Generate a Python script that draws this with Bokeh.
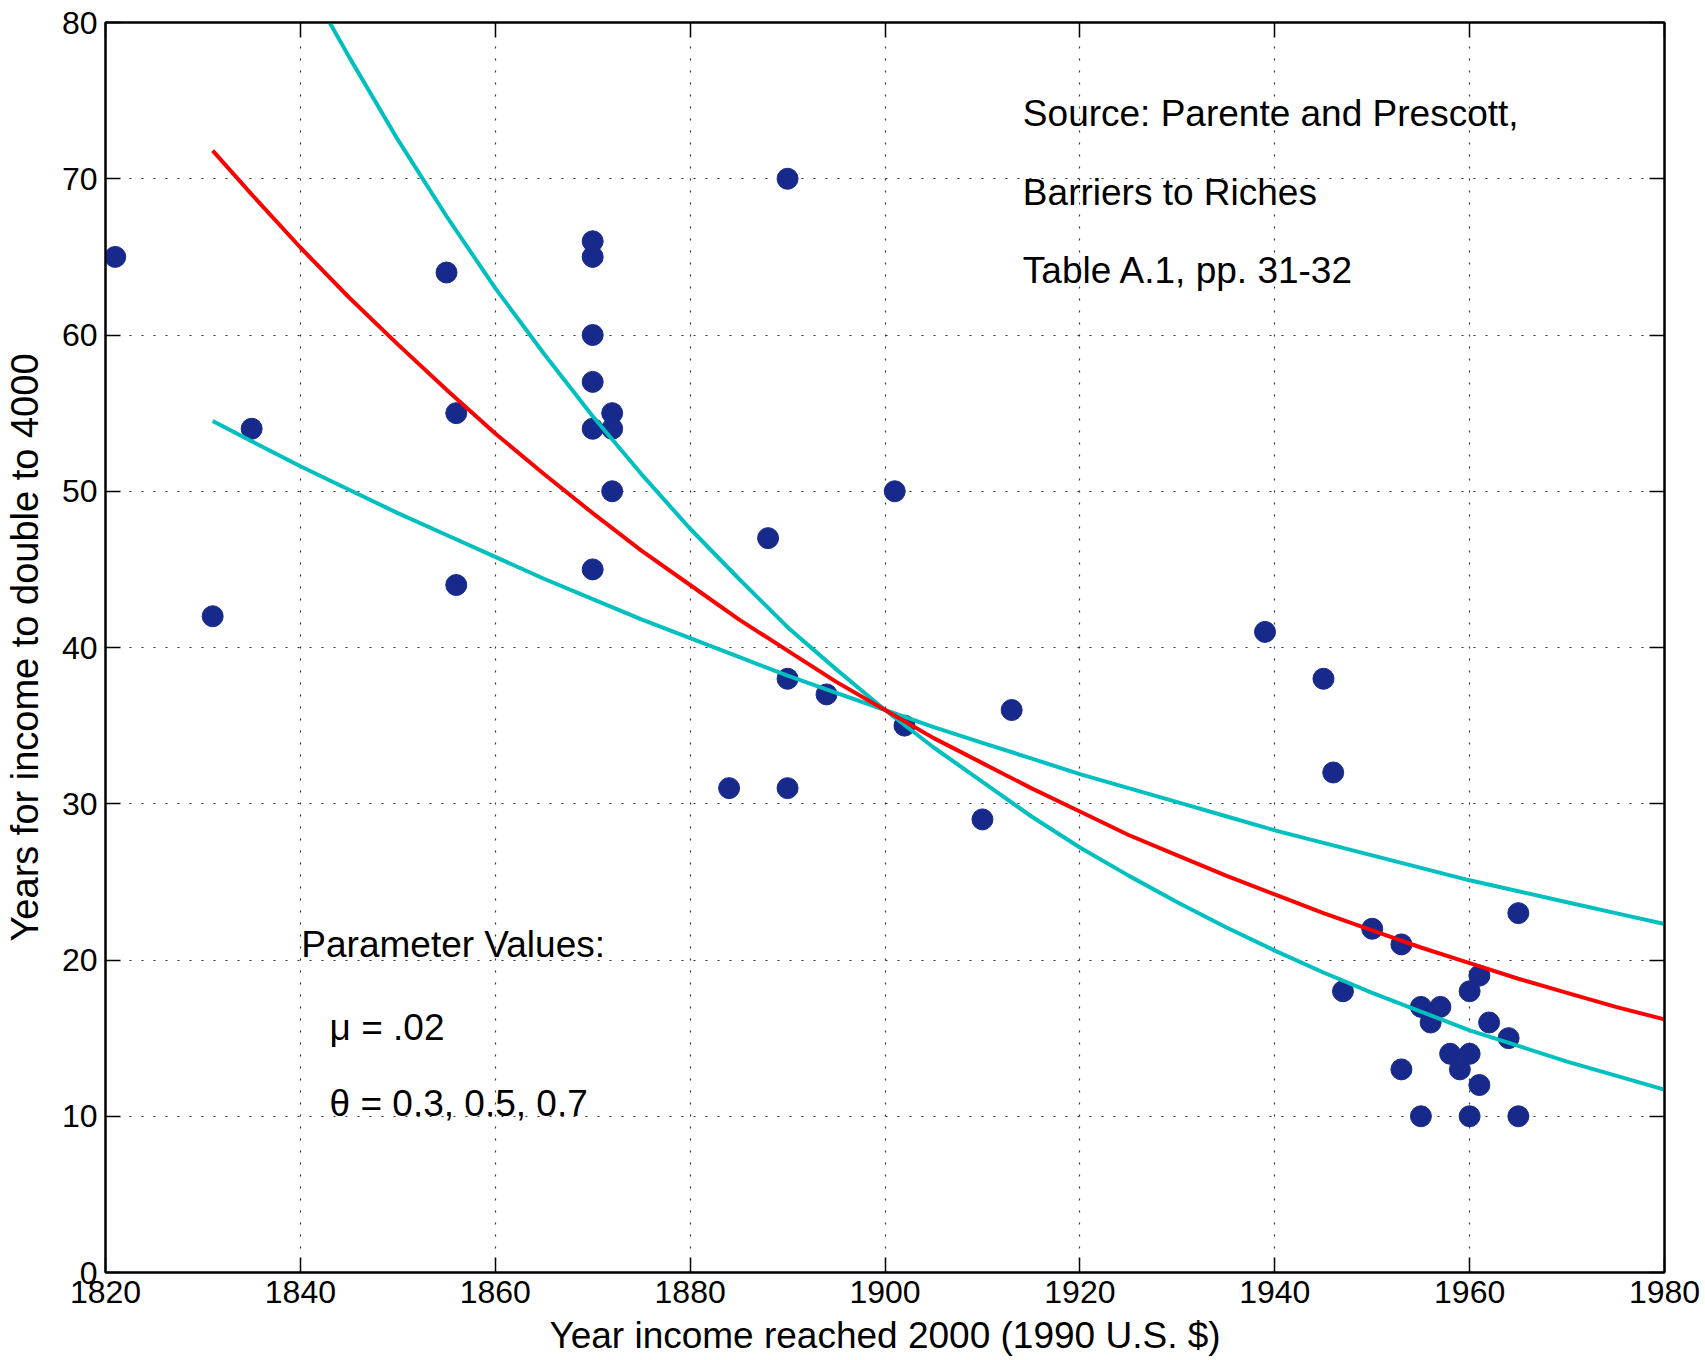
from bokeh.plotting import figure
from bokeh.models import LinearAxis, FixedTicker, Range1d, Label
from bokeh.embed import file_html
from bokeh.resources import INLINE

# Observed countries: year income first reached $2000 vs. years to reach $4000
obs_year = [1821, 1831, 1835, 1855, 1856, 1856, 1870, 1870, 1870, 1870, 1870,
            1872, 1872, 1872, 1870, 1884, 1888, 1890, 1890, 1890, 1894, 1901,
            1902, 1910, 1913, 1939, 1945, 1946, 1947, 1950, 1953, 1953, 1955,
            1955, 1956, 1957, 1958, 1959, 1960, 1960, 1960, 1961, 1961, 1962,
            1964, 1965, 1965]
obs_years_to_double = [65, 42, 54, 64, 55, 44, 66, 65, 60, 57, 54,
                       55, 54, 50, 45, 31, 47, 70, 38, 31, 37, 50,
                       35, 29, 36, 41, 38, 32, 18, 22, 21, 13, 17,
                       10, 16, 17, 14, 13, 14, 18, 10, 19, 12, 16,
                       15, 23, 10]

# Model predictions (mu = .02), one curve per theta
theta03_year = [1831, 1835, 1840, 1845, 1850, 1855, 1860, 1865, 1870, 1875,
                1880, 1885, 1890, 1895, 1900, 1905, 1910, 1915, 1920, 1925,
                1930, 1935, 1940, 1945, 1950, 1955, 1960, 1965, 1970, 1975, 1980]
theta03_val = [54.5, 53.2, 51.6, 50.1, 48.6, 47.2, 45.8, 44.4, 43.1, 41.8,
               40.6, 39.4, 38.2, 37.1, 36.0, 34.9, 33.9, 32.9, 31.9, 31.0,
               30.1, 29.2, 28.3, 27.5, 26.7, 25.9, 25.1, 24.4, 23.7, 23.0, 22.3]

theta05_year = [1831, 1835, 1840, 1845, 1850, 1855, 1860, 1865, 1870, 1875,
                1880, 1885, 1890, 1895, 1900, 1905, 1910, 1915, 1920, 1925,
                1930, 1935, 1940, 1945, 1950, 1955, 1960, 1965, 1970, 1975, 1980]
theta05_val = [71.8, 69.0, 65.6, 62.4, 59.4, 56.5, 53.7, 51.1, 48.6, 46.2,
               44.0, 41.8, 39.8, 37.8, 36.0, 34.2, 32.6, 31.0, 29.5, 28.0,
               26.7, 25.4, 24.2, 23.0, 21.9, 20.8, 19.8, 18.8, 17.9, 17.0, 16.2]

theta07_year = [1843, 1845, 1850, 1855, 1860, 1865, 1870, 1875, 1880, 1885,
                1890, 1895, 1900, 1905, 1910, 1915, 1920, 1925, 1930, 1935,
                1940, 1945, 1950, 1955, 1960, 1965, 1970, 1975, 1980]
theta07_val = [80.0, 77.8, 72.5, 67.6, 63.0, 58.8, 54.8, 51.1, 47.6, 44.4,
               41.3, 38.6, 36.0, 33.6, 31.4, 29.2, 27.2, 25.4, 23.7, 22.1,
               20.6, 19.2, 17.9, 16.7, 15.5, 14.5, 13.5, 12.6, 11.7]

x_ticks = [1820, 1840, 1860, 1880, 1900, 1920, 1940, 1960, 1980]
y_ticks = [0, 10, 20, 30, 40, 50, 60, 70, 80]

FONT = "Liberation Sans"

p = figure(width=1705, height=1360,
           x_range=Range1d(1820, 1980), y_range=Range1d(0, 80),
           output_backend="svg", toolbar_location=None,
           min_border_left=104, min_border_right=41,
           min_border_top=22, min_border_bottom=88)

p.background_fill_color = "white"
p.border_fill_color = "white"
p.outline_line_color = "black"
p.outline_line_width = 2

p.xaxis.ticker = FixedTicker(ticks=x_ticks)
p.yaxis.ticker = FixedTicker(ticks=y_ticks)
p.xaxis.axis_label = "Year income reached 2000 (1990 U.S. $)"
p.yaxis.axis_label = "Years for income to double to 4000"

for ax in (p.xaxis[0], p.yaxis[0]):
    ax.major_tick_in = 15
    ax.major_tick_out = 0
    ax.minor_tick_line_color = None
    ax.major_tick_line_width = 1.5
    ax.axis_line_width = 2
    ax.major_label_text_font = FONT
    ax.major_label_text_font_size = "32px"
    ax.major_label_text_color = "black"
    ax.major_label_standoff = 8
    ax.axis_label_text_font = FONT
    ax.axis_label_text_font_style = "normal"
    ax.axis_label_text_color = "black"

p.xaxis.axis_label_text_font_size = "37px"
p.yaxis.axis_label_text_font_size = "38px"
p.xaxis.axis_label_standoff = 9
p.yaxis.axis_label_standoff = 13

# mirrored ticks on the top and right edges (no labels)
for loc, ticks in (("above", x_ticks), ("right", y_ticks)):
    mirror = LinearAxis(ticker=FixedTicker(ticks=ticks),
                        major_label_text_font_size="1px",
                        major_label_text_color=None,
                        major_tick_in=15, major_tick_out=0,
                        minor_tick_line_color=None,
                        major_tick_line_width=1.5, axis_line_width=2,
                        major_label_standoff=0)
    p.add_layout(mirror, loc)

p.grid.grid_line_color = "#333333"
p.grid.grid_line_width = 1.2
p.grid.grid_line_dash = "2 10"

p.scatter(obs_year, obs_years_to_double, marker="circle", size=21,
          fill_color="#172A8C", line_color="#172A8C")

p.line(theta03_year, theta03_val, color="#00BFBF", line_width=4)
p.line(theta07_year, theta07_val, color="#00BFBF", line_width=4)
p.line(theta05_year, theta05_val, color="#FF0000", line_width=4)

notes = [
    (1914.15, 74.2, "Source: Parente and Prescott,"),
    (1914.15, 69.1, "Barriers to Riches"),
    (1914.15, 64.1, "Table A.1, pp. 31-32"),
    (1840.1, 21.0, "Parameter Values:"),
    (1843.0, 15.7, "\u03bc = .02"),
    (1843.0, 10.8, "\u03b8 = 0.3, 0.5, 0.7"),
]
for nx, ny, txt in notes:
    p.add_layout(Label(x=nx, y=ny, text=txt, text_font=FONT, text_font_size="37px",
                       text_baseline="middle", text_align="left", text_color="black"))

open("out.html", "w").write(file_html(p, INLINE))
